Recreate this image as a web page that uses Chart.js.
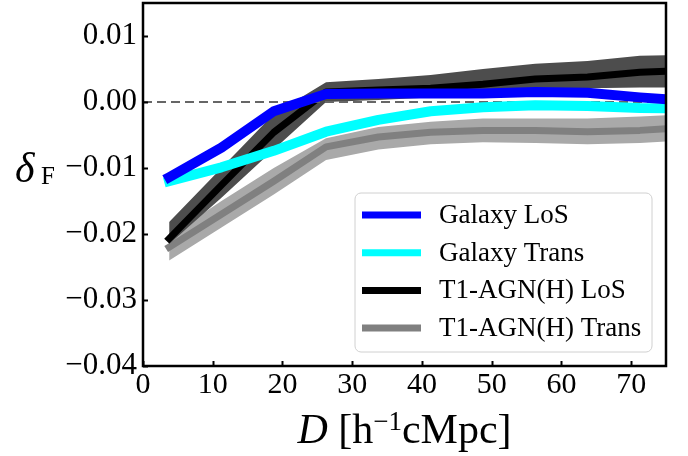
<!DOCTYPE html>
<html>
<head>
<meta charset="utf-8">
<script src="https://cdn.jsdelivr.net/npm/chart.js@4.4.0/dist/chart.umd.min.js"></script>
<style>
  html, body { margin: 0; padding: 0; background: #fff; }
</style>
</head>
<body>
<canvas id="mainChart" width="688" height="456"></canvas>
<script>
// separation bins (h^-1 cMpc)
const distance = [3.75, 11.25, 18.75, 26.25, 33.75, 41.25, 48.75, 56.25, 63.75, 71.25, 78.75];

const galaxyLos   = [-0.0114, -0.0069, -0.0014, 0.0012, 0.0013, 0.0013, 0.0013, 0.0015, 0.0014, 0.0007, 0.0001];
const galaxyTrans = [-0.0120, -0.0099, -0.0074, -0.0045, -0.0027, -0.0014, -0.0008, -0.0005, -0.0006, -0.0009, -0.0010];

const agnLos      = [-0.0207, -0.0126, -0.0046, 0.0015, 0.0018, 0.0021, 0.0027, 0.0035, 0.0038, 0.0045, 0.0048];
const agnLosHi    = [-0.0182, -0.0100, -0.0018, 0.0030, 0.0035, 0.0041, 0.0050, 0.0058, 0.0062, 0.0070, 0.0072];
const agnLosLo    = [-0.0215, -0.0145, -0.0072, 0.0000, 0.0003, 0.0007, 0.0011, 0.0018, 0.0021, 0.0022, 0.0022];

const agnTrans    = [-0.0220, -0.0170, -0.0120, -0.0068, -0.0053, -0.0046, -0.0043, -0.0043, -0.0045, -0.0043, -0.0038];
const agnTransHi  = [-0.0203, -0.0150, -0.0100, -0.0055, -0.0038, -0.0030, -0.0025, -0.0025, -0.0025, -0.0022, -0.0018];
const agnTransLo  = [-0.0240, -0.0190, -0.0140, -0.0088, -0.0072, -0.0064, -0.0061, -0.0062, -0.0064, -0.0062, -0.0058];

const xMin = 0, xMax = 75;
const yMin = -0.04, yMax = 0.015;
const xTicks = [0, 10, 20, 30, 40, 50, 60, 70];
const yTicks = [-0.04, -0.03, -0.02, -0.01, 0.00, 0.01];

const seriesLabels = ['Galaxy LoS', 'Galaxy Trans', 'T1-AGN(H) LoS', 'T1-AGN(H) Trans'];
const seriesColors = ['#0000ff', '#00ffff', '#000000', '#808080'];

const serif = "'Liberation Serif', 'DejaVu Serif', serif";

function pts(arr) {
    return distance.map((d, i) => ({ x: d, y: arr[i] }));
}

function line(label, arr, color, width) {
    return {
        label: label,
        data: pts(arr),
        borderColor: color,
        borderWidth: width,
        borderCapStyle: 'square',
        borderJoinStyle: 'round',
        pointRadius: 0,
        fill: false,
        clip: 0,
        inLegend: true
    };
}

function band(arr, color, fill) {
    return {
        label: '',
        data: pts(arr),
        borderWidth: 0,
        borderColor: 'rgba(0,0,0,0)',
        backgroundColor: color,
        pointRadius: 0,
        fill: fill,
        clip: 0
    };
}

// first dataset is drawn on top
const datasets = [
    line(seriesLabels[0], galaxyLos, seriesColors[0], 10),
    line(seriesLabels[1], galaxyTrans, seriesColors[1], 10),
    {
        label: '',
        data: [{ x: xMin, y: 0 }, { x: xMax, y: 0 }],
        borderColor: '#666666',
        borderWidth: 2,
        borderDash: [9, 5],
        pointRadius: 0,
        fill: false
    },
    line(seriesLabels[2], agnLos, seriesColors[2], 7),
    band(agnLosHi, '#4d4d4d', '+1'),
    band(agnLosLo, '#4d4d4d', false),
    line(seriesLabels[3], agnTrans, seriesColors[3], 7),
    band(agnTransHi, '#a9a9a9', '+1'),
    band(agnTransLo, '#a9a9a9', false)
];

function drawPieces(ctx, pieces, x, y) {
    pieces.forEach(p => {
        ctx.font = p.font;
        ctx.fillText(p.text, x, y - (p.raise || 0));
        x += ctx.measureText(p.text).width;
    });
}

function piecesWidth(ctx, pieces) {
    let w = 0;
    pieces.forEach(p => { ctx.font = p.font; w += ctx.measureText(p.text).width; });
    return w;
}

function noPad(s) {
    s.paddingTop = 0;
    s.paddingBottom = 0;
    s.paddingLeft = 0;
    s.paddingRight = 0;
}

const decor = {
    id: 'decor',
    afterDatasetsDraw(chart) {
        const ctx = chart.ctx;
        const a = chart.chartArea;
        const xs = chart.scales.x, ys = chart.scales.y;
        ctx.save();
        ctx.strokeStyle = '#000';
        ctx.lineWidth = 2;
        xs.ticks.forEach(t => {
            const px = Math.round(xs.getPixelForValue(t.value)) + 0.5;
            ctx.beginPath();
            ctx.moveTo(px, a.bottom);
            ctx.lineTo(px, a.bottom - 5);
            ctx.stroke();
        });
        ys.ticks.forEach(t => {
            const py = Math.round(ys.getPixelForValue(t.value)) + 0.5;
            ctx.beginPath();
            ctx.moveTo(a.left, py);
            ctx.lineTo(a.left + 5, py);
            ctx.stroke();
        });
        ctx.lineWidth = 2.5;
        ctx.strokeRect(a.left, a.top, a.right - a.left, a.bottom - a.top);
        ctx.restore();
    },
    afterDraw(chart) {
        const ctx = chart.ctx;
        const a = chart.chartArea;
        ctx.save();
        ctx.fillStyle = '#000';
        ctx.textBaseline = 'alphabetic';

        // x axis title
        const xt = [
            { text: 'D', font: 'italic 42px ' + serif },
            { text: ' [h', font: '42px ' + serif },
            { text: '\u22121', font: '27px ' + serif, raise: 13 },
            { text: 'cMpc]', font: '42px ' + serif }
        ];
        const w = piecesWidth(ctx, xt);
        drawPieces(ctx, xt, (a.left + a.right) / 2 - w / 2, 443);

        // y axis title
        drawPieces(ctx, [{ text: '\u03b4', font: 'italic 42px ' + serif }], 15, 182);
        drawPieces(ctx, [{ text: 'F', font: '25px ' + serif }], 41, 184);

        // legend
        const bx = 355, by = 193, bw = 297, bh = 159, r = 6;
        ctx.beginPath();
        ctx.roundRect(bx, by, bw, bh, r);
        ctx.fillStyle = 'rgba(255,255,255,0.8)';
        ctx.fill();
        ctx.strokeStyle = '#d0d0d0';
        ctx.lineWidth = 1;
        ctx.stroke();

        const items = chart.data.datasets.filter(d => d.inLegend);
        const order = seriesLabels.map(l => items.find(d => d.label === l));
        ctx.font = '27px ' + serif;
        ctx.textBaseline = 'middle';
        order.forEach((d, i) => {
            const cy = 215 + i * 37.7;
            ctx.strokeStyle = d.borderColor;
            ctx.lineWidth = 7;
            ctx.lineCap = 'butt';
            ctx.beginPath();
            ctx.moveTo(362, cy);
            ctx.lineTo(421, cy);
            ctx.stroke();
            ctx.fillStyle = '#000';
            ctx.fillText(d.label, 439, cy + 1);
        });
        ctx.restore();
    }
};

new Chart(document.getElementById('mainChart'), {
    type: 'line',
    data: { datasets: datasets },
    options: {
        responsive: false,
        animation: false,
        devicePixelRatio: 1,
        layout: { padding: { top: 3, right: 22, left: 0, bottom: 0 } },
        plugins: {
            legend: { display: false },
            tooltip: { enabled: false }
        },
        scales: {
            x: {
                type: 'linear',
                min: xMin,
                max: xMax,
                afterBuildTicks: s => { s.ticks = xTicks.map(v => ({ value: v })); },
                afterFit: s => { s.height = 90; noPad(s); },
                grid: { display: false, drawTicks: false },
                border: { display: false },
                ticks: {
                    color: '#000',
                    padding: 1,
                    maxRotation: 0,
                    font: { family: serif, size: 30 },
                    callback: v => String(v)
                }
            },
            y: {
                type: 'linear',
                min: yMin,
                max: yMax,
                afterBuildTicks: s => { s.ticks = yTicks.map(v => ({ value: v })); },
                afterFit: s => { s.width = 143; noPad(s); },
                grid: { display: false, drawTicks: false },
                border: { display: false },
                ticks: {
                    color: '#000',
                    padding: 6,
                    font: { family: serif, size: 31 },
                    callback: v => (v < -1e-9 ? '\u2212' : '') + Math.abs(v).toFixed(2)
                }
            }
        }
    },
    plugins: [decor]
});
</script>
</body>
</html>
